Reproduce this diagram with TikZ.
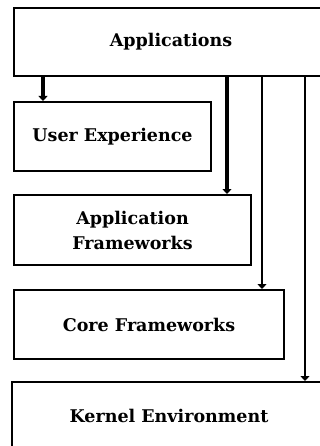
\documentclass[tikz,border=0pt]{standalone}
\usepackage{fontspec}
\setmainfont{DejaVu Serif}
\usetikzlibrary{arrows.meta}
\begin{document}
\begin{tikzpicture}[x=1pt,y=-1pt,
  layer/.style={draw=black, line width=2pt, fill=white, align=center,
    font=\fontsize{17.5}{25}\selectfont\bfseries, inner sep=0pt},
  feed/.style={line width=#1, -{Triangle[width=9pt,length=5pt]}},
  feed/.default=4pt]
\useasboundingbox (0,0) rectangle (320,446);
\clip (0,0) rectangle (320,446);
% stacked layers
\node[layer, minimum width=314pt, minimum height=68pt, anchor=north west] (app) at (13,7) {Applications};
\node[layer, minimum width=197pt, minimum height=69pt, anchor=north west] (ux) at (13,101) {User Experience};
\node[layer, minimum width=237pt, minimum height=70pt, anchor=north west] (af) at (13,194) {Application\\Frameworks};
\node[layer, minimum width=270pt, minimum height=69pt, anchor=north west] (cf) at (13,289) {Core Frameworks};
\node[layer, minimum width=314pt, minimum height=68pt, anchor=north west] (ke) at (11,381) {Kernel Environment};
% calls from the application layer down the stack
\draw[feed] (app.south west -| 43,0) -- (ux.north west -| 43,0);
\draw[feed] (app.south west -| 227,0) -- (af.north west -| 227,0);
\draw[feed=2.8pt] (app.south west -| 262,0) -- (cf.north west -| 262,0);
\draw[feed=2.8pt] (app.south west -| 305,0) -- (ke.north west -| 305,0);
\end{tikzpicture}
\end{document}
